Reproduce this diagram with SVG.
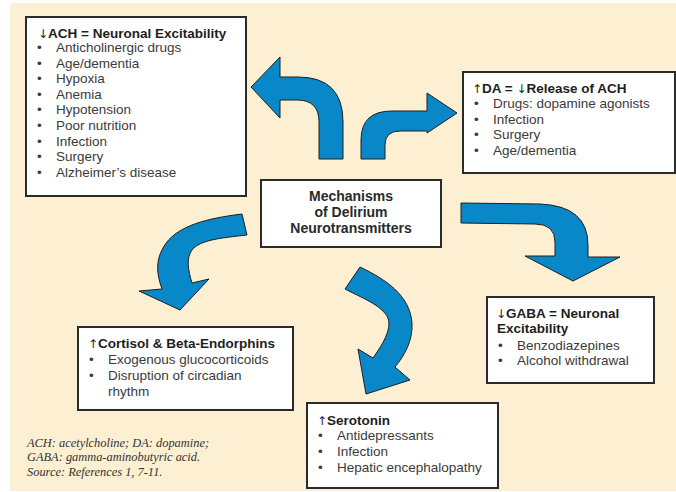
<svg xmlns="http://www.w3.org/2000/svg" width="676" height="492" viewBox="0 0 676 492">
<style>
.bg{fill:#fdf0d2}
.box{fill:#ffffff;stroke:#2b2b2b;stroke-width:2}
.arr{fill:#0888c8;stroke:#1e1e1e;stroke-width:1;stroke-linejoin:round}
.t{font-family:"Liberation Sans",Arial,sans-serif;font-size:13.5px;font-weight:bold;fill:#1e1e1e}
.g{font-family:"DejaVu Sans",sans-serif;font-size:12px;font-weight:normal}
.i{font-family:"Liberation Sans",Arial,sans-serif;font-size:13.5px;fill:#3a3a3a}
.c{font-family:"Liberation Sans",Arial,sans-serif;font-size:14px;font-weight:bold;fill:#2a2a2a;text-anchor:middle}
.f{font-family:"Liberation Serif","Times New Roman",serif;font-size:12.4px;font-style:italic;fill:#333333}
</style>
<rect x="0" y="0" width="676" height="492" fill="#ffffff"/>
<rect class="bg" x="10" y="3" width="666" height="488"/>

<g id="connectors">
  <path class="arr" d="M 319 159 L 319 122 Q 319 100 297 100 L 280 100 L 280 118 L 251 87 L 280 57 L 280 77 L 298 77 Q 343 77 343 122 L 343 159 Z"/>
  <path class="arr" d="M 361 159 L 361 140 Q 361 111 392 111 L 427 111 L 427 93 L 457 113 L 427 133 L 427 131 L 400 131 Q 385 131 385 145 L 385 159 Z"/>
  <path class="arr" d="M 461 203 L 540 204 Q 588 206 588 245 L 588 257 L 620 257 L 573 281 L 525 256 L 555 256 L 555 242 Q 555 224 535 224 L 461 223 Z"/>
  <path class="arr" d="M 242 214 C 210 218 175 225 163 248 C 155 262 157 275 162 289 L 139 291 L 180 310 L 209 279 L 192 283 C 188 270 186 258 192 250 C 200 240 220 238 247 235 Z"/>
  <path class="arr" d="M 360 267 C 385 279 410 295 412 323 C 413 340 405 355 395 367 L 410 380 L 366 394 L 358 349 L 373 358 C 382 345 392 330 388 318 C 382 305 360 297 345 289 Z"/>
</g>

<g id="ach">
  <rect class="box" x="26" y="17" width="220" height="179"/>
  <text class="t" x="38" y="38"><tspan class="g">↓</tspan>ACH = Neuronal Excitability</text>
  <g class="i">
    <text x="37" y="52">•</text><text x="56" y="52">Anticholinergic drugs</text>
    <text x="37" y="68">•</text><text x="56" y="68">Age/dementia</text>
    <text x="37" y="83">•</text><text x="56" y="83">Hypoxia</text>
    <text x="37" y="99">•</text><text x="56" y="99">Anemia</text>
    <text x="37" y="114">•</text><text x="56" y="114">Hypotension</text>
    <text x="37" y="130">•</text><text x="56" y="130">Poor nutrition</text>
    <text x="37" y="146">•</text><text x="56" y="146">Infection</text>
    <text x="37" y="161">•</text><text x="56" y="161">Surgery</text>
    <text x="37" y="177">•</text><text x="56" y="177">Alzheimer’s disease</text>
  </g>
</g>

<g id="da">
  <rect class="box" x="463" y="72" width="212" height="101"/>
  <text class="t" x="472" y="93"><tspan class="g">↑</tspan>DA = <tspan class="g">↓</tspan>Release of ACH</text>
  <g class="i">
    <text x="474" y="108">•</text><text x="493" y="108">Drugs: dopamine agonists</text>
    <text x="474" y="124">•</text><text x="493" y="124">Infection</text>
    <text x="474" y="139">•</text><text x="493" y="139">Surgery</text>
    <text x="474" y="155">•</text><text x="493" y="155">Age/dementia</text>
  </g>
</g>

<g id="center">
  <rect class="box" x="261" y="180" width="180" height="67"/>
  <text class="c" x="351" y="201">Mechanisms</text>
  <text class="c" x="351" y="217">of Delirium</text>
  <text class="c" x="351" y="233">Neurotransmitters</text>
</g>

<g id="gaba">
  <rect class="box" x="487" y="297" width="167" height="86"/>
  <text class="t" x="496" y="318"><tspan class="g">↓</tspan>GABA = Neuronal</text>
  <text class="t" x="497" y="333">Excitability</text>
  <g class="i">
    <text x="498" y="350">•</text><text x="517" y="350">Benzodiazepines</text>
    <text x="498" y="365">•</text><text x="517" y="365">Alcohol withdrawal</text>
  </g>
</g>

<g id="cortisol">
  <rect class="box" x="78" y="327" width="215" height="83"/>
  <text class="t" x="88" y="348"><tspan class="g">↑</tspan>Cortisol &amp; Beta-Endorphins</text>
  <g class="i">
    <text x="89" y="364">•</text><text x="108" y="364">Exogenous glucocorticoids</text>
    <text x="89" y="380">•</text><text x="108" y="380">Disruption of circadian</text>
    <text x="108" y="396">rhythm</text>
  </g>
</g>

<g id="serotonin">
  <rect class="box" x="307" y="403" width="191" height="85"/>
  <text class="t" x="317" y="425"><tspan class="g">↑</tspan>Serotonin</text>
  <g class="i">
    <text x="318" y="440">•</text><text x="337" y="440">Antidepressants</text>
    <text x="318" y="456">•</text><text x="337" y="456">Infection</text>
    <text x="318" y="472">•</text><text x="337" y="472">Hepatic encephalopathy</text>
  </g>
</g>

<g id="footnote" class="f">
  <text x="27" y="447">ACH: acetylcholine; DA: dopamine;</text>
  <text x="27" y="461">GABA: gamma-aminobutyric acid.</text>
  <text x="27" y="476">Source: References 1, 7-11.</text>
</g>
</svg>
